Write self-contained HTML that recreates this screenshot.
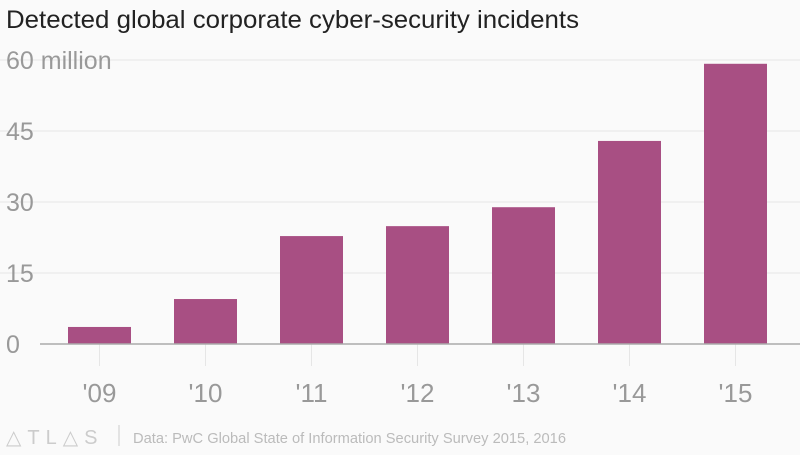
<!DOCTYPE html>
<html><head><meta charset="utf-8"><style>
body{margin:0;width:800px;height:450px;background:#fafafa;font-family:"Liberation Sans",sans-serif;overflow:hidden}
</style></head><body>
<svg width="800" height="450">
<text x="6" y="28" font-size="25" fill="#222" textLength="573" lengthAdjust="spacingAndGlyphs">Detected global corporate cyber-security incidents</text>
<g id="grid"></g><g id="bars"></g><g id="xl"></g>
<line x1="40" x2="800" y1="344" y2="344" stroke="#aaa" stroke-width="1.5"/>
<text x="6" y="444" font-size="20" fill="#ccc" letter-spacing="6">△TL△S</text>
<line x1="119" x2="119" y1="425" y2="446" stroke="#ccc"/>
<text x="133" y="443" font-size="15" fill="#bbb" textLength="433" lengthAdjust="spacingAndGlyphs">Data: PwC Global State of Information Security Survey 2015, 2016</text>
</svg>
<script>
const categories=["'09","'10","'11","'12","'13","'14","'15"];
const values=[3.6,9.5,22.8,24.9,28.9,42.9,59.2];
const ticks=[0,15,30,45,60];
const tickLabels=["0","15","30","45","60 million"];
const NS="http://www.w3.org/2000/svg";
const y=v=>344-v*284/60, x=i=>99.5+i*106;
function mk(t,a,p){const e=document.createElementNS(NS,t);for(const k in a)e.setAttribute(k,a[k]);p.appendChild(e);return e;}
const g=document.getElementById('grid');
ticks.forEach((t,i)=>{
 if(t>0){const l=mk('line',{x1:0,x2:800,y1:y(t),y2:y(t),stroke:'#e6e6e6'},g);
 
 }
 const tx=mk('text',{x:6,y:y(t)+9,'font-size':25,fill:'#999'},g);tx.textContent=tickLabels[i];
 
 
});
const b=document.getElementById('bars'),xl=document.getElementById('xl');
values.forEach((v,i)=>{
 const r=mk('rect',{x:x(i)-31.5,y:y(v),width:63,height:344-y(v),fill:'#a84f83'},b);
 
 
 const tk=mk('line',{x1:x(i),x2:x(i),y1:344,y2:366,stroke:'#e6e6e6'},xl);
 
 
 const t=mk('text',{x:x(i),y:402,'font-size':26,fill:'#999','text-anchor':'middle'},xl);t.textContent=categories[i];
 
 
});
</script>
</body></html>
